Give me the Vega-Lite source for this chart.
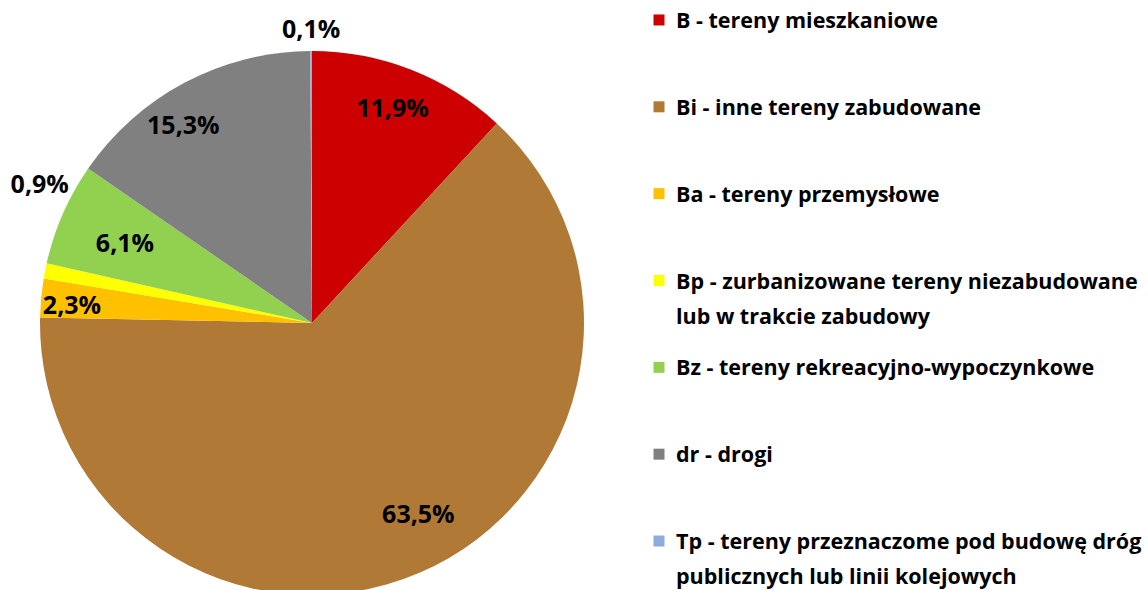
{
  "$schema": "https://vega.github.io/schema/vega-lite/v6.json",
  "padding": 0,
  "bounds": "flush",
  "background": "white",
  "config": {"view": {"stroke": null}, "font": "Open Sans"},
  "datasets": {
    "d": [
      {"ord": 1, "cat": "B", "value": 11.9, "label": "11,9%", "legend": ["B - tereny mieszkaniowe"]},
      {"ord": 2, "cat": "Bi", "value": 63.5, "label": "63,5%", "legend": ["Bi - inne tereny zabudowane"]},
      {"ord": 3, "cat": "Ba", "value": 2.3, "label": "2,3%", "legend": ["Ba - tereny przemysłowe"]},
      {"ord": 4, "cat": "Bp", "value": 0.9, "label": "0,9%", "legend": ["Bp - zurbanizowane tereny niezabudowane", "lub w trakcie zabudowy"]},
      {"ord": 5, "cat": "Bz", "value": 6.1, "label": "6,1%", "legend": ["Bz - tereny rekreacyjno-wypoczynkowe"]},
      {"ord": 6, "cat": "dr", "value": 15.3, "label": "15,3%", "legend": ["dr - drogi"]},
      {"ord": 7, "cat": "Tp", "value": 0.1, "label": "0,1%", "legend": ["Tp - tereny przeznaczome pod budowę dróg", "publicznych lub linii kolejowych"]}
    ]
  },
  "hconcat": [
    {
      "width": 624,
      "height": 646,
      "data": {"name": "d"},
      "encoding": {
        "theta": {"field": "value", "type": "quantitative", "stack": true},
        "order": {"field": "ord", "type": "quantitative"}
      },
      "layer": [
        {
          "mark": {"type": "arc", "outerRadius": 272},
          "encoding": {
            "color": {
              "field": "cat", "type": "nominal", "legend": null,
              "scale": {
                "domain": ["B", "Bi", "Ba", "Bp", "Bz", "dr", "Tp"],
                "range": ["#CC0000", "#B07935", "#FFC000", "#FFFF00", "#92D050", "#808080", "#8FAADC"]
              }
            }
          }
        },
        {
          "mark": {"type": "text", "radius": 226, "dx": -2, "dy": -4, "fontSize": 25, "fontWeight": "bold", "color": "black"},
          "encoding": {"text": {"condition": {"test": "datum.cat == 'B'", "field": "label"}, "value": ""}}
        },
        {
          "mark": {"type": "text", "radius": 226, "dx": 18, "dy": -16, "fontSize": 25, "fontWeight": "bold", "color": "black"},
          "encoding": {"text": {"condition": {"test": "datum.cat == 'Bi'", "field": "label"}, "value": ""}}
        },
        {
          "mark": {"type": "text", "radius": 226, "dx": -15, "dy": 4, "fontSize": 25, "fontWeight": "bold", "color": "black"},
          "encoding": {"text": {"condition": {"test": "datum.cat == 'Ba'", "field": "label"}, "value": ""}}
        },
        {
          "mark": {"type": "text", "radius": 226, "dx": 20, "dy": 12, "fontSize": 25, "fontWeight": "bold", "color": "black"},
          "encoding": {"text": {"condition": {"test": "datum.cat == 'Bz'", "field": "label"}, "value": ""}}
        },
        {
          "mark": {"type": "text", "radius": 226, "dx": -23, "dy": 3, "fontSize": 25, "fontWeight": "bold", "color": "black"},
          "encoding": {"text": {"condition": {"test": "datum.cat == 'dr'", "field": "label"}, "value": ""}}
        },
        {
          "mark": {"type": "text", "radius": 293, "fontSize": 25, "fontWeight": "bold", "color": "black"},
          "encoding": {"text": {"condition": {"test": "datum.cat == 'Tp'", "field": "label"}, "value": ""}}
        },
        {
          "mark": {"type": "text", "radius": 200, "dx": -76, "dy": -100, "fontSize": 25, "fontWeight": "bold", "color": "black"},
          "encoding": {"text": {"condition": {"test": "datum.cat == 'Bp'", "field": "label"}, "value": ""}}
        }
      ]
    },
    {
      "width": 12,
      "height": 561,
      "data": {"name": "d"},
      "encoding": {
        "y": {"field": "cat", "type": "ordinal", "sort": null, "axis": null, "scale": {"type": "point", "padding": 0.23}}
      },
      "layer": [
        {
          "mark": {"type": "square", "size": 121, "opacity": 1},
          "encoding": {
            "color": {
              "field": "cat", "type": "nominal", "legend": null,
              "scale": {
                "domain": ["B", "Bi", "Ba", "Bp", "Bz", "dr", "Tp"],
                "range": ["#CC0000", "#B07935", "#FFC000", "#FFFF00", "#92D050", "#808080", "#8FAADC"]
              }
            }
          }
        },
        {
          "mark": {"type": "text", "align": "left", "baseline": "alphabetic", "dx": 17, "dy": 8, "fontSize": 21.5, "fontWeight": "bold", "lineHeight": 35, "color": "black"},
          "encoding": {"text": {"field": "legend"}}
        }
      ]
    }
  ],
  "spacing": 29
}
